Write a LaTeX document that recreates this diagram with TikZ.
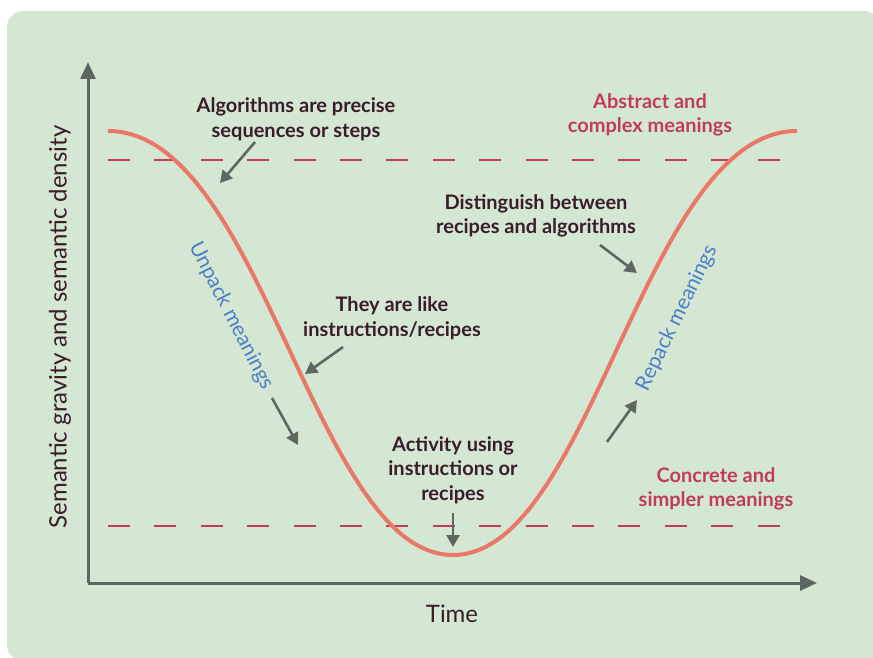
\documentclass[tikz,border=0pt]{standalone}
\usepackage{fontspec}
\setmainfont{Lato}
\usetikzlibrary{arrows.meta}
\definecolor{bggreen}{HTML}{D3E7D3}
\definecolor{txtdark}{HTML}{3A1C2A}
\definecolor{crimson}{HTML}{C23A5C}
\definecolor{bluelab}{HTML}{4F7DC9}
\definecolor{curvered}{HTML}{EA7767}
\definecolor{axisgray}{HTML}{5E6661}
\tikzset{
  note/.style={font=\bfseries\fontsize{20}{24.5}\selectfont, text=txtdark, align=center, inner sep=0pt},
  level/.style={font=\bfseries\fontsize{20}{24.5}\selectfont, text=crimson, align=center, inner sep=0pt},
  phase/.style={font=\fontsize{21}{24}\selectfont, text=bluelab, inner sep=0pt},
  axlabel/.style={font=\fontsize{24}{28}\selectfont, text=txtdark, inner sep=0pt},
  pointer/.style={draw=axisgray, line width=2.6pt, -{Triangle[length=12pt,width=13pt]}},
  axisline/.style={draw=axisgray, line width=3pt, -{Triangle[length=17pt,width=15pt]}},
  guide/.style={draw=crimson, line width=2pt, dash pattern=on 22pt off 24.4pt},
}
\begin{document}
\begin{tikzpicture}[x=1pt,y=-1pt]
\useasboundingbox (0,0) rectangle (873,658);
\fill[white] (0,0) rectangle (873,658);
\fill[bggreen, rounded corners=16pt] (7,11) rectangle (880,661);

% guide lines
\coordinate (gt1) at (108,160); \coordinate (gt2) at (782,160);
\coordinate (gb1) at (108,526); \coordinate (gb2) at (782,526);
\draw[guide] (gt1) -- (gt2);
\draw[guide] (gb1) -- (gb2);

% axes
\coordinate (origin) at (88,583);
\coordinate (ytip) at (88,62);
\coordinate (xtip) at (817,583);
\draw[axisline] (origin) -- (ytip);
\draw[axisline] (origin) -- (xtip);

% curve
\draw[curvered, line width=4pt] (108,131) .. controls (262,131) and (314,555) .. (453,555)
      .. controls (592,555) and (644,131) .. (797,131);

% labels
\node[note] (alg) at (296,119) {Algorithms are precise\\sequences or steps};
\node[level] (abs) at (650,115) {Abstract and\\complex meanings};
\node[note] (dist) at (536,216) {Distinguish between\\recipes and algorithms};
\node[note] (like) at (392,318) {They are like\\instructions/recipes};
\node[note] (act) at (453,470) {Activity using\\instructions or\\recipes};
\node[level] (conc) at (716,489) {Concrete and\\simpler meanings};
\node[phase, rotate=-63] (unpack) at (231,316) {Unpack meanings};
\node[phase, rotate=64] (repack) at (677,318) {Repack meanings};
\node[axlabel, rotate=90] (ylab) at (60,327) {Semantic gravity and semantic density};
\node[axlabel] (time) at (452,614) {Time};

% pointers
\coordinate (a1s) at (255,142); \coordinate (a1e) at (220,183);
\coordinate (a2s) at (600,245); \coordinate (a2e) at (637,273);
\coordinate (a3s) at (343,347); \coordinate (a3e) at (305,374);
\coordinate (a4s) at (272,398); \coordinate (a4e) at (298,445);
\coordinate (a5s) at (453,513); \coordinate (a5e) at (453,547);
\coordinate (a6s) at (607,442); \coordinate (a6e) at (637,400);
\draw[pointer] (a1s) -- (a1e);
\draw[pointer] (a2s) -- (a2e);
\draw[pointer] (a3s) -- (a3e);
\draw[pointer] (a4s) -- (a4e);
\draw[pointer] (a5s) -- (a5e);
\draw[pointer] (a6s) -- (a6e);
\end{tikzpicture}
\end{document}
